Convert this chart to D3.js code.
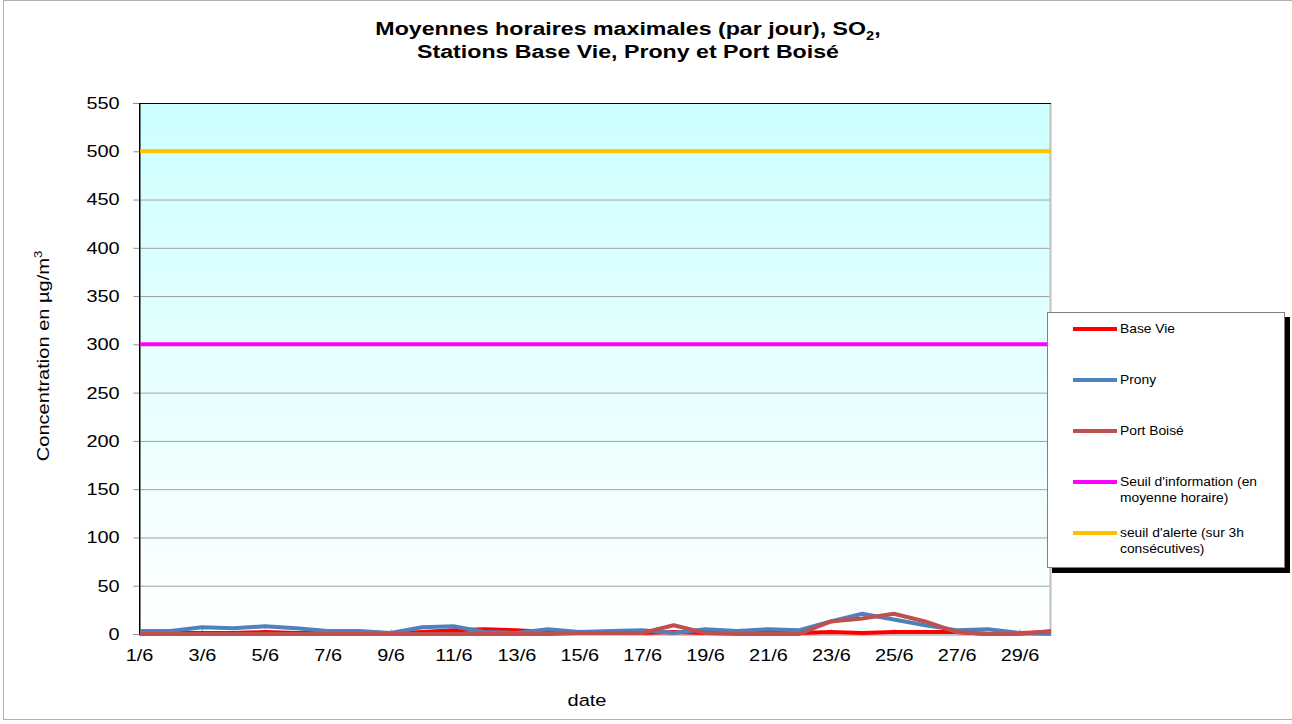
<!DOCTYPE html>
<html>
<head>
<meta charset="utf-8">
<script src="https://cdn.jsdelivr.net/npm/d3@7"></script>
<style>
  body { margin: 0; background: #fff; }
  svg { display: block; font-family: Arial, "Liberation Sans", sans-serif; }
</style>
</head>
<body>
<svg id="chart" width="1292" height="724"></svg>
<script>
// day labels (June)
var days = d3.range(1, 31).map(function (d) { return d + '/6'; });
var baseVie = [1, 1, 1, 1, 2, 1, 1, 1, 0, 2, 4, 5, 4, 2, 1, 1, 1, 2, 1, 1, 1, 1, 2, 1, 2, 2, 2, 0, 1, 2];
var prony = [3, 3, 7, 6, 8, 6, 3, 3, 1, 7, 8, 2, 1, 5, 2, 3, 4, 1, 5, 3, 5, 4, 13, 21, 15, 9, 4, 5, 1, 0];
var portBoise = [0, 0, 0, 0, 0, 0, 0, 0, 0, 0, 0, 0, 0, 0, 1, 1, 1, 9, 1, 0, 0, 0, 13, 16, 21, 13, 2, 0, 0, 3];
var seuilInfo = 300;
var seuilAlerte = 500;
var yTicks = d3.range(0, 551, 50);

var series = [
  { name: 'Base Vie', color: '#ff0000', values: baseVie },
  { name: 'Prony', color: '#4f81bd', values: prony },
  { name: 'Port Boisé', color: '#c0504d', values: portBoise }
];
var thresholds = [
  { name: ["Seuil d'information (en", 'moyenne horaire)'], color: '#ff00ff', value: seuilInfo },
  { name: ["seuil d'alerte (sur 3h", 'consécutives)'], color: '#ffc000', value: seuilAlerte }
];

var svg = d3.select('#chart');
var plotLeft = 139, plotRight = 1051, plotTop = 103, plotBottom = 634;
// the source font is drawn wider than Arial
var stretch = 'scale(1.17,1)';

var x = d3.scalePoint().domain(days).range([plotLeft, plotRight]);
var y = d3.scaleLinear().domain([0, 550]).range([plotBottom, plotTop]);

// outer chart border
svg.append('rect')
  .attr('x', 3.5).attr('y', 0.5).attr('width', 1300).attr('height', 719)
  .attr('fill', 'none').attr('stroke', '#b0b0b0');

// plot background gradient
var grad = svg.append('defs').append('linearGradient')
  .attr('id', 'bg').attr('x1', 0).attr('y1', 0).attr('x2', 0).attr('y2', 1);
grad.append('stop').attr('offset', '0%').attr('stop-color', '#ccffff');
grad.append('stop').attr('offset', '100%').attr('stop-color', '#ffffff');

svg.append('rect')
  .attr('x', plotLeft).attr('y', plotTop)
  .attr('width', plotRight - plotLeft).attr('height', plotBottom - plotTop)
  .attr('fill', 'url(#bg)');

// gridlines
svg.append('g').selectAll('line')
  .data(yTicks.slice(1, -1))
  .enter().append('line')
  .attr('x1', plotLeft).attr('x2', plotRight)
  .attr('y1', function (d) { return y(d) + 0.5; })
  .attr('y2', function (d) { return y(d) + 0.5; })
  .attr('stroke', '#a0a0a0').attr('stroke-width', 1);

// plot border: black top/left, gray right/bottom
svg.append('line').attr('x1', plotRight - 0.5).attr('x2', plotRight - 0.5).attr('y1', plotTop).attr('y2', plotBottom)
  .attr('stroke', '#c0c0c0').attr('stroke-width', 2);
svg.append('line').attr('x1', plotLeft).attr('x2', plotRight).attr('y1', plotTop + 0.5).attr('y2', plotTop + 0.5)
  .attr('stroke', '#000');

// y axis
var yAxis = svg.append('g')
  .attr('transform', 'translate(' + (plotLeft + 0.5) + ',0)')
  .call(d3.axisLeft(y).tickValues(yTicks).tickSize(6).tickPadding(11));
yAxis.select('.domain').attr('stroke', '#000');
yAxis.selectAll('.tick line').attr('stroke', '#909090');
yAxis.selectAll('text').attr('font-size', 17).attr('fill', '#000')
  .attr('font-family', 'Arial, "Liberation Sans", sans-serif')
  .attr('transform', stretch);

// x axis
var xAxis = svg.append('g')
  .attr('transform', 'translate(0,' + (plotBottom + 0.5) + ')')
  .call(d3.axisBottom(x)
    .tickValues(days.filter(function (d, i) { return i % 2 === 0; }))
    .tickSizeInner(-5).tickSizeOuter(0).tickPadding(14));
xAxis.select('.domain').attr('stroke', '#909090');
xAxis.selectAll('.tick line').attr('stroke', '#909090');
xAxis.selectAll('text').attr('font-size', 17).attr('fill', '#000')
  .attr('font-family', 'Arial, "Liberation Sans", sans-serif')
  .attr('transform', stretch);

// data lines
var line = d3.line()
  .x(function (d, i) { return x(days[i]); })
  .y(function (d) { return y(d); });

series.forEach(function (s) {
  svg.append('path')
    .datum(s.values)
    .attr('d', line)
    .attr('fill', 'none')
    .attr('stroke', s.color)
    .attr('stroke-width', 4)
    .attr('stroke-linejoin', 'round');
});

thresholds.forEach(function (t) {
  svg.append('path')
    .datum(days.map(function () { return t.value; }))
    .attr('d', line)
    .attr('fill', 'none')
    .attr('stroke', t.color)
    .attr('stroke-width', 4);
});

// left axis line on top
svg.append('line').attr('x1', plotLeft + 0.5).attr('x2', plotLeft + 0.5).attr('y1', plotTop).attr('y2', plotBottom)
  .attr('stroke', '#000');

// title
var t1 = svg.append('g').attr('transform', 'translate(628,35) scale(1.22,1)')
  .append('text')
  .attr('text-anchor', 'middle')
  .attr('font-size', 19).attr('font-weight', 'bold');
t1.append('tspan').text('Moyennes horaires maximales (par jour), SO');
t1.append('tspan').attr('font-size', 12).attr('dy', 5).text('2');
t1.append('tspan').attr('dy', -5).text(',');
svg.append('g').attr('transform', 'translate(628,58) scale(1.22,1)')
  .append('text')
  .attr('text-anchor', 'middle')
  .attr('font-size', 19).attr('font-weight', 'bold')
  .text('Stations Base Vie, Prony et Port Boisé');

// axis titles
var yt = svg.append('g').attr('transform', 'translate(49,356) rotate(-90) scale(1.18,1)')
  .append('text')
  .attr('text-anchor', 'middle')
  .attr('font-size', 17);
yt.append('tspan').text('Concentration en µg/m');
yt.append('tspan').attr('font-size', 11).attr('dy', -7).text('3');

svg.append('g').attr('transform', 'translate(587,706) scale(1.18,1)')
  .append('text')
  .attr('text-anchor', 'middle')
  .attr('font-size', 17)
  .text('date');

// legend
var lg = svg.append('g');
lg.append('rect').attr('x', 1052).attr('y', 317).attr('width', 238).attr('height', 256).attr('fill', '#000');
lg.append('rect').attr('x', 1047.5).attr('y', 312.5).attr('width', 237).attr('height', 255)
  .attr('fill', '#fff').attr('stroke', '#808080');

var entries = series.map(function (s) { return { name: [s.name], color: s.color }; })
  .concat(thresholds);
var rowY = [329, 380, 431, 482, 533];
entries.forEach(function (e, i) {
  var yy = rowY[i];
  lg.append('line')
    .attr('x1', 1073).attr('x2', 1117).attr('y1', yy).attr('y2', yy)
    .attr('stroke', e.color).attr('stroke-width', 4);
  e.name.forEach(function (txt, j) {
    lg.append('g').attr('transform', 'translate(1120,' + (yy + 4 + j * 16) + ') scale(1.08,1)')
      .append('text')
      .attr('font-size', 12.8)
      .text(txt);
  });
});
</script>
</body>
</html>
